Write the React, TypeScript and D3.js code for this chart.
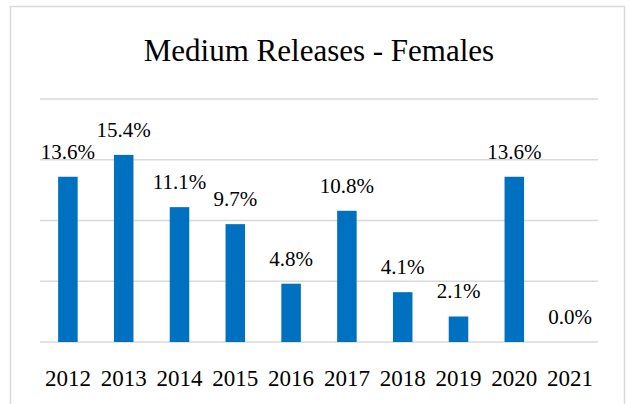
import React from "react";
import * as d3 from "d3";

const years = ["2012", "2013", "2014", "2015", "2016", "2017", "2018", "2019", "2020", "2021"];
const values = [13.6, 15.4, 11.1, 9.7, 4.8, 10.8, 4.1, 2.1, 13.6, 0.0];
const yTicks = [0, 5, 10, 15, 20];
const title = "Medium Releases - Females";

const W = 629;
const H = 404;
const font = "'Liberation Serif', 'Times New Roman', serif";

export default function App() {
  const x = d3.scaleBand<string>().domain(years).range([40, 598]).paddingInner(0.65).paddingOuter(0.325);
  const y = d3.scaleLinear().domain([0, 20]).range([342, 99]);
  return (
    <svg width={W} height={H} style={{ position: "absolute", left: 0, top: 0 }} fontFamily={font}>
      <rect x={0} y={0} width={W} height={H} fill="#fff" />
      <rect x={10.5} y={6.5} width={614} height={420} fill="#fff" stroke="#d9d9d9" strokeWidth={1.5} />
      <text x={319} y={61} textAnchor="middle" fontSize={31} fill="#000">{title}</text>
      {yTicks.map((t) => (
        <line key={t} x1={40} x2={598} y1={y(t)} y2={y(t)} stroke="#d9d9d9" strokeWidth={1.5} />
      ))}
      {years.map((yr, i) => (
        <g key={yr}>
          <rect x={x(yr)} y={y(values[i])} width={x.bandwidth()} height={y(0) - y(values[i])} fill="#0070C0" />
          <text x={(x(yr) as number) + x.bandwidth() / 2} y={y(values[i]) - 18} textAnchor="middle" fontSize={21} fill="#000">
            {values[i].toFixed(1) + "%"}
          </text>
          <text x={(x(yr) as number) + x.bandwidth() / 2} y={386} textAnchor="middle" fontSize={23} fill="#000">
            {yr}
          </text>
        </g>
      ))}
    </svg>
  );
}
